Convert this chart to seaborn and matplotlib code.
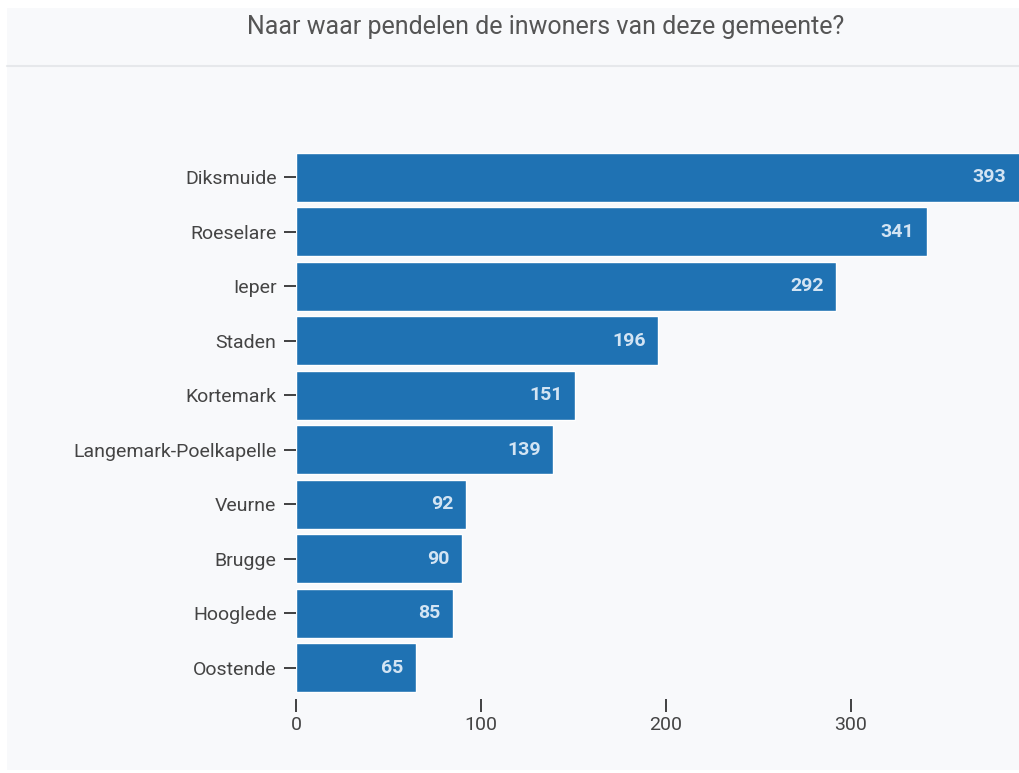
import matplotlib
matplotlib.use("Agg")
import matplotlib.pyplot as plt
import seaborn as sns
import pandas as pd

# data
gemeenten = ["Diksmuide", "Roeselare", "Ieper", "Staden", "Kortemark",
             "Langemark-Poelkapelle", "Veurne", "Brugge", "Hooglede", "Oostende"]
aantal = [393, 341, 292, 196, 151, 139, 92, 90, 85, 65]
x_ticks = [0, 100, 200, 300]

df = pd.DataFrame({"gemeente": gemeenten, "aantal": aantal})

sns.set_style("white")
plt.rcParams['font.family'] = ['Roboto', 'DejaVu Sans']

fig = plt.figure(figsize=(10.19, 7.73), dpi=100, facecolor="white")

# grey panel + separator under title
fig.patches.append(plt.Rectangle((7/1019, 3/773), 1, 762/773, transform=fig.transFigure,
                                 facecolor="#f8f9fb", edgecolor="none", zorder=-5))
fig.lines.append(plt.Line2D([7/1019, 1], [1-66/773, 1-66/773], transform=fig.transFigure,
                            color="#e6e8eb", lw=1.5, zorder=-4))
fig.text(546/1019, 1-27/773, "Naar waar pendelen de inwoners van deze gemeente?",
         ha="center", va="center", fontsize=18, color="#555555")

ax = fig.add_axes([296/1019, 78/773, 1-296/1019, 545/773])
ax.set_facecolor("none")

sns.barplot(data=df, y="gemeente", x="aantal", orient="h", color="#1f72b3",
            saturation=1, width=0.89, ax=ax)

for i, v in enumerate(aantal):
    ax.annotate(str(v), xy=(min(v, 391), i), xytext=(-9, 0), textcoords="offset points",
                ha="right", va="center", color="#d3e4f3", fontsize=14, fontweight="bold")

ax.set_xlim(0, 391)
ax.set_xticks(x_ticks)
ax.set_xlabel("")
ax.set_ylabel("")
for s in ["top", "right", "left"]:
    ax.spines[s].set_visible(False)
ax.spines["bottom"].set_position(("outward", 3))
ax.spines["bottom"].set_visible(False)
ax.tick_params(axis="x", bottom=True, length=9, width=1.2, color="#222222",
               labelsize=14, labelcolor="#444444", pad=3)
ax.tick_params(axis="y", left=True, length=9, width=1.2, color="#222222",
               labelsize=14, labelcolor="#444444", pad=5)

plt.savefig("out.png", dpi=100, facecolor="white")
